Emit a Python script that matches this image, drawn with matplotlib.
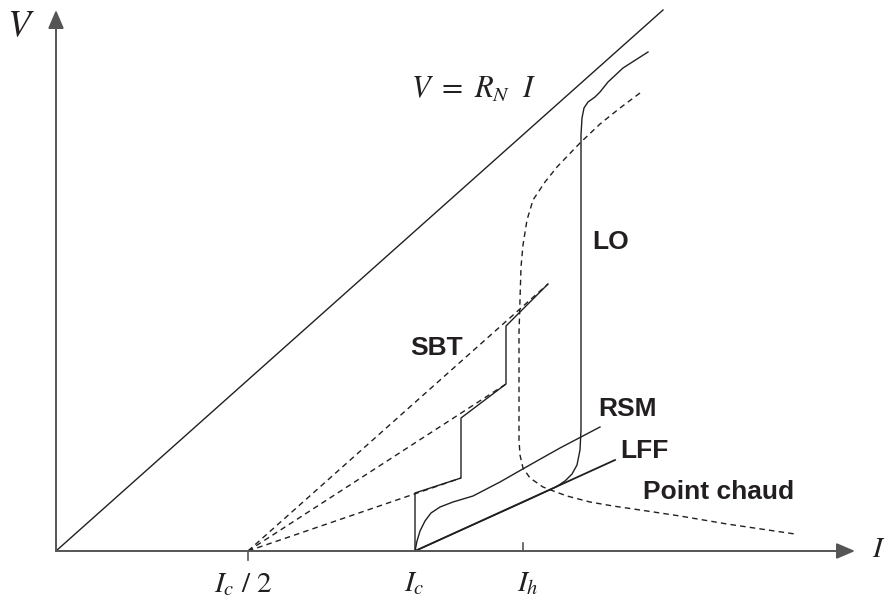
import matplotlib
matplotlib.use("Agg")
import matplotlib.pyplot as plt

plt.rcParams['mathtext.fontset'] = 'stix'

# ---- data (schematic units; origin at axes crossing) ----
ohm_I = [0, 607]
ohm_V = [0, 541]

rsm_I = [359, 361, 364, 369, 375, 384, 397, 417, 444, 472, 504, 544]
rsm_V = [0, 10, 20, 30, 38, 44, 49, 55, 69, 85, 103, 124]

lff_I = [359, 559]
lff_V = [0, 91]

lo_I = [359, 474, 489, 500, 509, 516, 521, 524, 525, 525, 525, 525, 526, 528, 532, 539, 544, 552, 567, 592]
lo_V = [0, 52, 59, 64, 70, 77, 86, 101, 121, 251, 351, 416, 433, 443, 449, 454, 459, 469, 483, 499]

hot_I = [584, 564, 544, 524, 501, 489, 477, 471, 467, 465, 464, 463, 463, 463, 464, 467, 474, 487, 500, 511, 534, 557, 591, 624, 671, 739]
hot_V = [458, 443, 427, 408, 384, 369, 351, 331, 306, 284, 251, 218, 151, 111, 96, 83, 73, 64, 59, 55, 49, 45, 40, 35, 27, 17]

sbt_I = [359, 359, 405, 405, 450, 450, 492]
sbt_V = [0, 58, 73, 133, 167, 225, 267]

fan_origin = (192, 0)
fan_end_I = [405, 450, 492]
fan_end_V = [73, 167, 267]

tick_Ic2 = 192
tick_Ic = 359
tick_Ih = 467

x_max = 799
y_max = 541

labels = ["SBT", "LO", "RSM", "LFF", "Point chaud"]
label_I = [354, 536, 542, 564, 587]
label_V = [196, 302, 135, 93, 52]

ink = '#231f20'
axis_c = '#555555'

fig = plt.figure(figsize=(8.85, 6.01), dpi=100)
ax = fig.add_axes([0, 0, 1, 1])
ax.set_xlim(-56, 829)
ax.set_ylim(-50, 551)
ax.axis('off')

# axes with arrows
ax.annotate('', xy=(x_max, 0), xytext=(0, 0),
            arrowprops=dict(arrowstyle='-|>,head_length=0.7,head_width=0.3', color=axis_c, lw=1.4,
                            shrinkA=0, shrinkB=0, mutation_scale=16))
ax.annotate('', xy=(0, y_max), xytext=(0, 0),
            arrowprops=dict(arrowstyle='-|>,head_length=0.7,head_width=0.3', color=axis_c, lw=1.4,
                            shrinkA=0, shrinkB=0, mutation_scale=16))

# ticks
ax.plot([tick_Ic2, tick_Ic2], [0, -9], color=axis_c, lw=1.2)
ax.plot([tick_Ih, tick_Ih], [0, 8], color=axis_c, lw=1.2)

lw = 1.0
dash = (0, (4, 3))
ax.plot(ohm_I, ohm_V, color=ink, lw=lw)
ax.plot(rsm_I, rsm_V, color=ink, lw=lw)
ax.plot(lff_I, lff_V, color=ink, lw=lw * 1.3)
ax.plot(lo_I, lo_V, color=ink, lw=lw)
ax.plot(hot_I, hot_V, color=ink, lw=lw, linestyle=dash)
for ei, ev in zip(fan_end_I, fan_end_V):
    ax.plot([fan_origin[0], ei], [fan_origin[1], ev], color=ink, lw=lw, linestyle=dash)
ax.plot(sbt_I, sbt_V, color=ink, lw=lw)

# bold labels
for t, xi, yv in zip(labels, label_I, label_V):
    ax.text(xi, yv, t, fontsize=19, fontweight='bold', family='Liberation Sans',
            color=ink, ha='left', va='baseline')

# math labels
ax.text(-35, 525, r'$V$', fontsize=27, color=ink, ha='center', va='center')
ax.text(355, 453, r'$V\ =\ R_N\ \ I$', fontsize=22, color=ink, ha='left', va='baseline')
ax.text(816, -6, r'$I$', fontsize=21, color=ink, ha='left', va='baseline')
ax.text(158, -41, r'$I_c\ /\ 2$', fontsize=21, color=ink, ha='left', va='baseline')
ax.text(348, -40, r'$I_c$', fontsize=21, color=ink, ha='left', va='baseline')
ax.text(461, -40, r'$I_h$', fontsize=21, color=ink, ha='left', va='baseline')

fig.savefig('out.png', dpi=100)
